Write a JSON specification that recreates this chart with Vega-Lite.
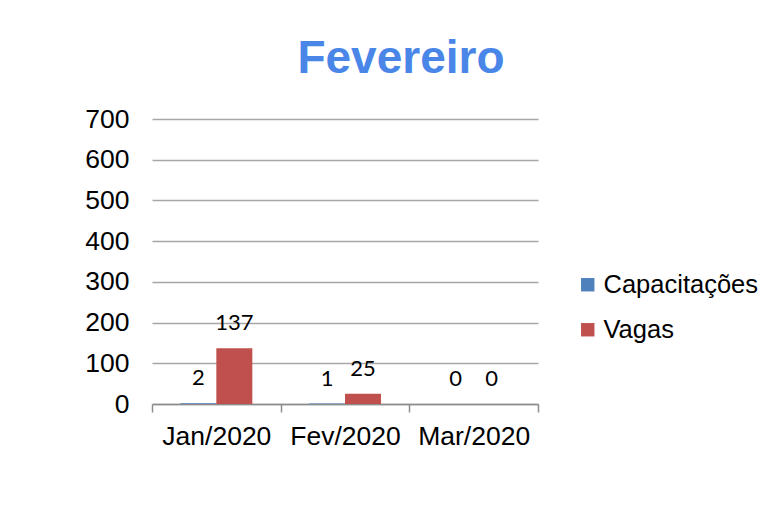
{
  "$schema": "https://vega.github.io/schema/vega-lite/v6.json",
  "autosize": {"type": "none"},
  "width": 386,
  "height": 285,
  "padding": {"left": 152, "top": 119, "right": 239, "bottom": 114},
  "background": "white",
  "title": {
    "text": "Fevereiro",
    "font": "Liberation Sans",
    "fontSize": 46,
    "fontWeight": "bold",
    "color": "#4A86E8",
    "anchor": "middle",
    "dx": 56,
    "offset": 23
  },
  "data": {
    "values": [
      {"mes": "Jan/2020", "serie": "Capacitações", "valor": 2},
      {"mes": "Jan/2020", "serie": "Vagas", "valor": 137},
      {"mes": "Fev/2020", "serie": "Capacitações", "valor": 1},
      {"mes": "Fev/2020", "serie": "Vagas", "valor": 25},
      {"mes": "Mar/2020", "serie": "Capacitações", "valor": 0},
      {"mes": "Mar/2020", "serie": "Vagas", "valor": 0}
    ]
  },
  "encoding": {
    "x": {
      "field": "mes",
      "type": "nominal",
      "sort": ["Jan/2020", "Fev/2020", "Mar/2020"],
      "scale": {"paddingInner": 0, "paddingOuter": 0},
      "axis": {
        "title": null,
        "labelAngle": 0,
        "labelFont": "Liberation Sans",
        "labelFontSize": 26.5,
        "labelColor": "#000000",
        "labelPadding": 11,
        "tickBand": "extent",
        "tickSize": 8,
        "tickColor": "#8c8c8c",
        "domainColor": "#8c8c8c",
        "domainWidth": 1.5,
        "tickWidth": 1.5,
        "grid": false
      }
    },
    "xOffset": {
      "field": "serie",
      "type": "nominal",
      "sort": ["Capacitações", "Vagas"],
      "scale": {"paddingInner": 0, "paddingOuter": 0.7875}
    },
    "y": {
      "field": "valor",
      "type": "quantitative",
      "scale": {"domain": [0, 700], "nice": false},
      "axis": {
        "title": null,
        "values": [0, 100, 200, 300, 400, 500, 600, 700],
        "labelFont": "Liberation Sans",
        "labelFontSize": 26.5,
        "labelColor": "#000000",
        "labelPadding": 23,
        "ticks": false,
        "domain": false,
        "grid": true,
        "gridColor": "#a6a6a6",
        "gridWidth": 1.3
      }
    }
  },
  "layer": [
    {
      "mark": {"type": "bar"},
      "encoding": {
        "color": {
          "field": "serie",
          "type": "nominal",
          "sort": ["Capacitações", "Vagas"],
          "scale": {"domain": ["Capacitações", "Vagas"], "range": ["#4F81BD", "#C0504D"]},
          "legend": {
            "title": null,
            "orient": "none",
            "legendX": 423,
            "legendY": 153,
            "symbolType": "square",
            "symbolSize": 180,
            "symbolStrokeWidth": 0,
            "symbolOpacity": 1,
            "labelFont": "Liberation Sans",
            "labelFontSize": 25.5,
            "labelColor": "#000000",
            "labelOffset": 3,
            "rowPadding": 18,
            "labelLimit": 300
          }
        }
      }
    },
    {
      "mark": {
        "type": "text",
        "baseline": "bottom",
        "dy": -13,
        "font": "Lato",
        "fontSize": 22,
        "color": "#000000"
      },
      "encoding": {
        "text": {"field": "valor", "type": "quantitative"}
      }
    }
  ],
  "config": {
    "view": {"stroke": null}
  }
}
